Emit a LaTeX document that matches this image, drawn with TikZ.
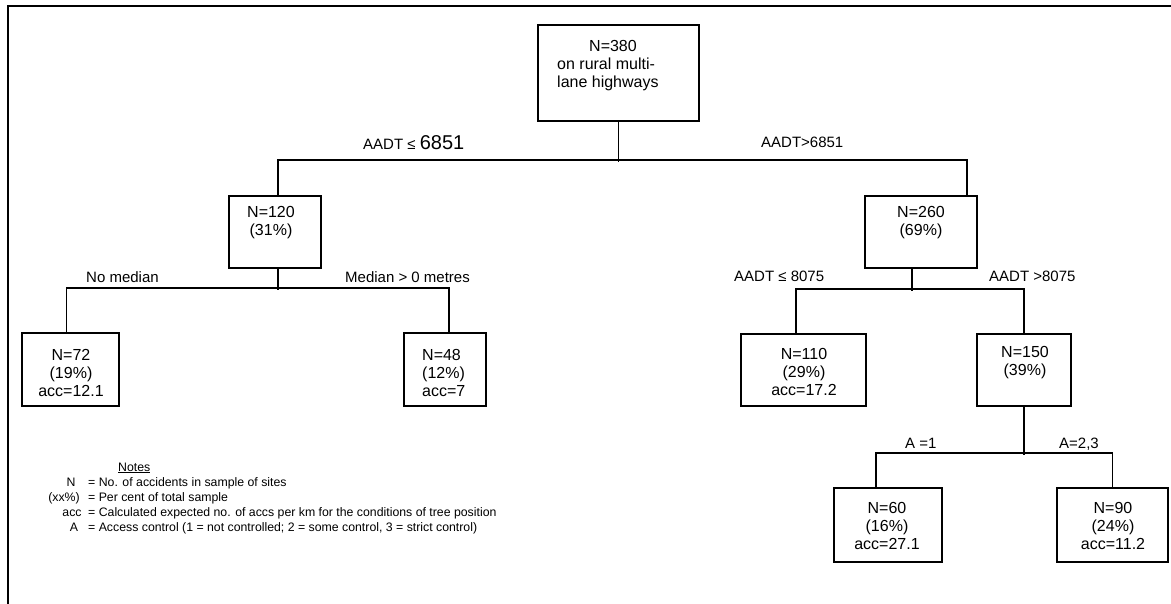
\documentclass[tikz,border=0pt]{standalone}
\usepackage{fontspec}
\setmainfont{Liberation Sans}
\begin{document}
\begin{tikzpicture}[x=1pt,y=-1pt,
  box/.style={draw, line width=2pt, rectangle, inner sep=0pt},
  conn/.style={line width=1.8pt},
  frame/.style={line width=2.8pt},
  txt/.style={font=\fontsize{16}{18}\selectfont, align=center, inner sep=0pt},
  lbl/.style={font=\fontsize{15}{17}\selectfont, inner sep=0pt, anchor=base west},
  note/.style={font=\fontsize{12.3}{15}\selectfont, inner sep=0pt}]
\useasboundingbox (0,0) rectangle (1171,604);
% frame
\draw[frame] (8,604) -- (8,6) -- (1171,6);
% boxes
\node[box, minimum width=161pt, minimum height=96pt] (root) at (618.5,73) {};
\node[box, minimum width=92pt,  minimum height=72pt] (n120) at (275,232) {};
\node[box, minimum width=112pt, minimum height=72pt] (n260) at (921,232) {};
\node[box, minimum width=97pt,  minimum height=73pt] (n72)  at (70.5,369.5) {};
\node[box, minimum width=82pt,  minimum height=73pt] (n48)  at (445,369.5) {};
\node[box, minimum width=125pt, minimum height=72pt] (n110) at (803.5,370) {};
\node[box, minimum width=94pt,  minimum height=72pt] (n150) at (1024,370) {};
\node[box, minimum width=108pt, minimum height=74pt] (n60)  at (888,525) {};
\node[box, minimum width=111pt, minimum height=74pt] (n90)  at (1112.5,525) {};
% box texts
\node[txt, align=left, anchor=west] (troot) at (557,66) {\hspace*{32pt}N=380\\on rural multi-\\lane highways};
\node[txt] (t120) at (271,223) {N=120\\(31\%)};
\node[txt] (t260) at (921,223) {N=260\\(69\%)};
\node[txt] (t72)  at (71,373) {N=72\\(19\%)\\acc=12.1};
\node[txt, align=left, anchor=west] (t48) at (422,373) {N=48\\(12\%)\\acc=7};
\node[txt] (t110) at (804,372) {N=110\\(29\%)\\acc=17.2};
\node[txt] (t150) at (1025,363) {N=150\\(39\%)};
\node[txt] (t60)  at (887,526) {N=60\\(16\%)\\acc=27.1};
\node[txt] (t90)  at (1113,526) {N=90\\(24\%)\\acc=11.2};
% connectors
\draw[conn] (root.south) -- ++(0,40);
\draw[conn] ([xshift=3pt]n120.north) -- ++(0,-35) -| ([xshift=46pt]n260.north);
\draw[conn] ([xshift=3pt]n120.south) -- ++(0,21);
\draw[conn] ([xshift=-4pt]n72.north) -- ++(0,-44) -| ([xshift=4pt]n48.north);
\draw[conn] ([xshift=-9pt]n260.south) -- ++(0,22);
\draw[conn] ([xshift=-7.5pt]n110.north) -- ++(0,-44) -| (n150.north);
\draw[conn] (n150.south) -- ++(0,48);
\draw[conn] ([xshift=-12pt]n60.north) -- ++(0,-34) -| (n90.north);
% branch labels
\node[lbl] (l1) at (363,150) {AADT ≤ {\fontsize{20}{22}\selectfont 6851}};
\node[lbl] (l2) at (761,148) {AADT>6851};
\node[lbl] (l3) at (86,283) {No median};
\node[lbl] (l4) at (345,283) {Median > 0 metres};
\node[lbl] (l5) at (734,282) {AADT ≤ 8075};
\node[lbl] (l6) at (989,282) {AADT >8075};
\node[lbl] (l7) at (905,448) {A =1};
\node[lbl] (l8) at (1059,448) {A=2,3};
% notes
\node[note, anchor=base west] (nh) at (118,471) {\underline{Notes}};
\node[note, anchor=base] (k1) at (71,486) {N};
\node[note, anchor=base] (k2) at (64,501) {(xx\%)};
\node[note, anchor=base] (k3) at (72,516) {acc};
\node[note, anchor=base] (k4) at (74,531) {A};
\node[note, anchor=base west] (v1) at (88,486) {= No. of accidents in sample of sites};
\node[note, anchor=base west] (v2) at (88,501) {= Per cent of total sample};
\node[note, anchor=base west] (v3) at (88,516) {= Calculated expected no. of accs per km for the conditions of tree position};
\node[note, anchor=base west] (v4) at (88,531) {= Access control (1 = not controlled; 2 = some control, 3 = strict control)};
\end{tikzpicture}
\end{document}
